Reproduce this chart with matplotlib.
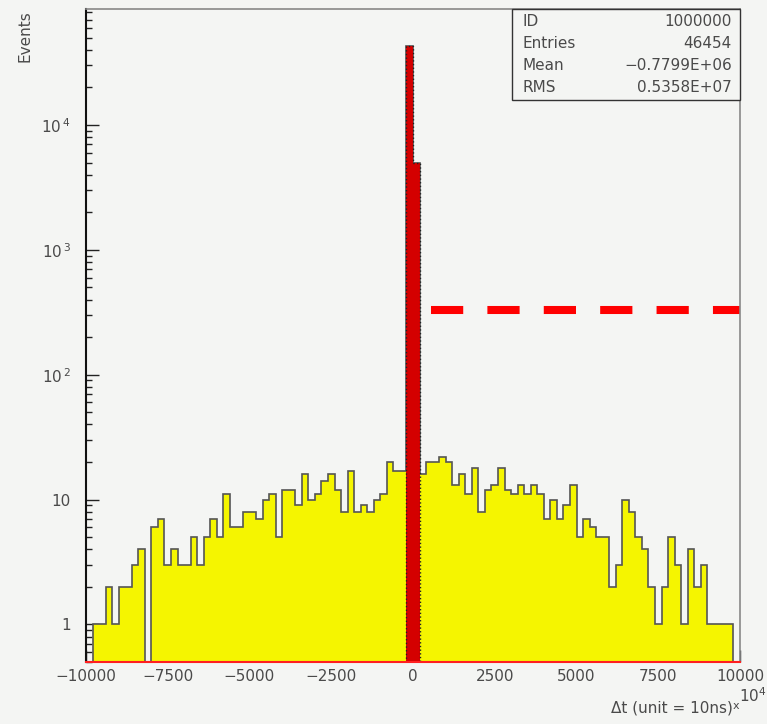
import numpy as np
import matplotlib
matplotlib.use("Agg")
import matplotlib.pyplot as plt
from matplotlib.patches import Rectangle
from matplotlib.ticker import FixedLocator, MultipleLocator, LogLocator, NullFormatter

# --- HISTOGRAM CONTENTS (100 bins of 200 from -10000 to 10000, unit 10^4 x 10ns) ---
x_lo, x_hi, n_bins = -10000, 10000, 100
counts = [
    0, 1, 1, 2, 1, 2, 2, 3, 4, 0,
    6, 7, 3, 4, 3, 3, 5, 3, 5, 7,
    5, 11, 6, 6, 8, 8, 7, 10, 11, 5,
    12, 12, 9, 16, 10, 11, 14, 16, 12, 8,
    17, 8, 9, 8, 10, 11, 20, 17, 17, 43000,
    5000, 16, 20, 20, 22, 20, 13, 16, 11, 18,
    8, 12, 13, 18, 12, 11, 13, 11, 13, 11,
    7, 10, 7, 9, 13, 5, 7, 6, 5, 5,
    2, 3, 10, 8, 5, 4, 2, 1, 2, 5,
    3, 1, 4, 2, 3, 1, 1, 1, 1, 0,
]
peak_bins = [49, 50]          # coincidence peak, drawn in red

threshold = 330               # dashed level
threshold_from = 550

stats_names = ["ID", "Entries", "Mean", "RMS"]
stats_values = ["1000000", "46454", "\u22120.7799E+06", "0.5358E+07"]

xticks = [-10000, -7500, -5000, -2500, 0, 2500, 5000, 7500, 10000]
xtick_labels = ["\u221210000", "\u22127500", "\u22125000", "\u22122500", "0",
                "2500", "5000", "7500", "10000"]
yticks = [1, 10, 100, 1000, 10000]
ytick_labels = ["1", "10", r"$10^{\,2}$", r"$10^{\,3}$", r"$10^{\,4}$"]
y_lo, y_hi = 0.5, 85000

# --- STYLE ---
bg = "#f4f5f3"
txt = "#4a4a4a"
plt.rcParams["font.family"] = "DejaVu Sans"

fig = plt.figure(figsize=(7.67, 7.24), dpi=100, facecolor=bg)
W, H = 767, 724
ax = fig.add_axes([86 / W, 62 / H, 654 / W, 653 / H], facecolor=bg)

edges = np.linspace(x_lo, x_hi, n_bins + 1)
counts = np.asarray(counts, dtype=float)
shown = np.where(counts > 0, counts, y_lo)   # empty bins sit on the floor

ax.stairs(shown, edges, baseline=y_lo, fill=True, color="#f5f500", zorder=2)
ax.stairs(shown, edges, baseline=y_lo, color="#555555", lw=1.2, zorder=3)

pk = np.array(peak_bins)
pk_edges = edges[pk[0]:pk[-1] + 2]
ax.stairs(counts[pk], pk_edges, baseline=y_lo, fill=True, color="#d40000", zorder=4)
ax.stairs(counts[pk], pk_edges, baseline=y_lo, color="#222222", lw=1, ls=":", zorder=5)

ax.hlines(threshold, threshold_from, x_hi, color="#ff0000", lw=5.8,
          linestyles=(0, (4.0, 3.0)), capstyle="butt", zorder=6, clip_on=True)

ax.set_yscale("log")
ax.set_xlim(x_lo, x_hi)
ax.set_ylim(y_lo, y_hi)

ax.xaxis.set_major_locator(FixedLocator(xticks))
ax.set_xticklabels(xtick_labels)
ax.xaxis.set_minor_locator(MultipleLocator(1250))
ax.yaxis.set_major_locator(FixedLocator(yticks))
ax.set_yticklabels(ytick_labels)
ax.yaxis.set_minor_locator(LogLocator(base=10, subs=np.arange(2, 10)))
ax.yaxis.set_minor_formatter(NullFormatter())

ax.tick_params(axis="both", which="major", direction="in", length=9, width=1,
               color="#222222", labelsize=11, labelcolor=txt)
ax.tick_params(axis="both", which="minor", direction="in", length=4.5, width=1,
               color="#222222")
ax.tick_params(axis="x", which="both", top=False, pad=5)
ax.tick_params(axis="y", which="both", right=False, pad=11)

ax.spines["left"].set_color("#111111")
ax.spines["left"].set_linewidth(1.5)
ax.spines["bottom"].set_color("#ff2020")
ax.spines["bottom"].set_linewidth(1.5)
for s in ("top", "right"):
    ax.spines[s].set_color("#888888")
    ax.spines[s].set_linewidth(1.2)
for s in ax.spines.values():
    s.set_zorder(7)

# --- STATS BOX ---
fig.patches.append(Rectangle((512 / W, 1 - 100 / H), 228 / W, 91 / H,
                             transform=fig.transFigure, facecolor=bg,
                             edgecolor="#333333", lw=1, zorder=10))
for i, (name, val) in enumerate(zip(stats_names, stats_values)):
    yy = 1 - (22 + 22 * i) / H
    fig.text(523 / W, yy, name, ha="left", va="center", fontsize=11, color=txt, zorder=11)
    fig.text(732 / W, yy, val, ha="right", va="center", fontsize=11, color=txt, zorder=11)

# --- AXIS TITLES ---
fig.text(25 / W, 1 - 10 / H, "Events", rotation=90, ha="center", va="top",
         fontsize=11, color=txt)
fig.text(733 / W, 1 - 708 / H, "\u0394t (unit = 10ns)", ha="right", va="center",
         fontsize=11, color=txt)
fig.text(736 / W, 1 - 706 / H, "x", ha="center", va="center", fontsize=8, color=txt)
fig.text(753 / W, 1 - 696 / H, r"$10^{4}$", ha="center", va="center", fontsize=11, color=txt)

fig.savefig("out.png", dpi=100, facecolor=bg)
